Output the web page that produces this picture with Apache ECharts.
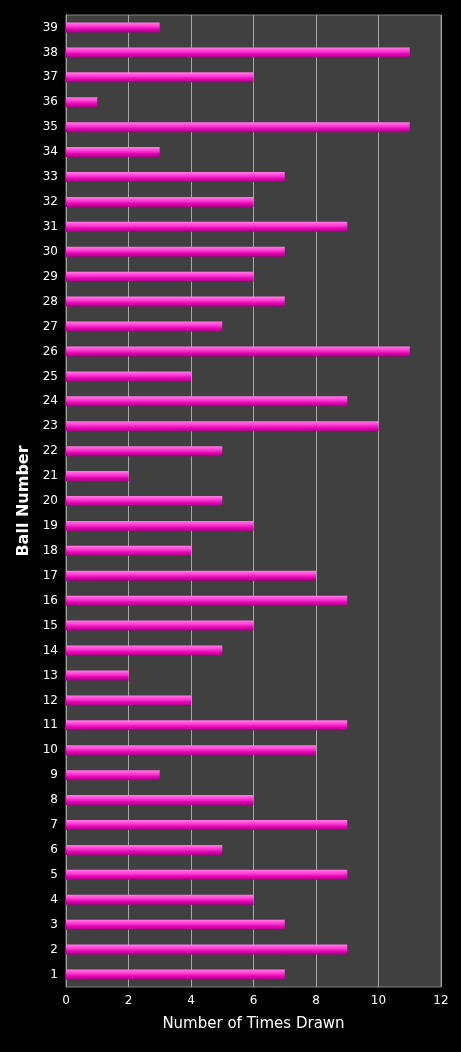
<!DOCTYPE html>
<html style="height: 100%">
<head><meta charset="utf-8"></head>
<body style="height: 100%; margin: 0; background: #000">
<div id="container" style="height: 100%"></div>
<script src="https://cdn.jsdelivr.net/npm/echarts@6/dist/echarts.min.js"></script>
<script>
var balls = [];
for (var i = 1; i <= 39; i++) balls.push(String(i));
var timesDrawn = [7, 9, 7, 6, 9, 5, 9, 6, 3, 8, 9, 4, 2, 5, 6, 9, 8, 4, 6, 5,
                  2, 5, 10, 9, 4, 11, 5, 7, 6, 7, 9, 6, 7, 3, 11, 1, 6, 11, 3];
var xTicks = [0, 2, 4, 6, 8, 10, 12];

var myChart = echarts.init(document.getElementById('container'));
var option = {
    backgroundColor: '#000',
    textStyle: { fontFamily: 'DejaVu Sans' },
    grid: {
        left: 66, right: 20, top: 15, bottom: 65,
        show: true, backgroundColor: '#404040', borderColor: '#808080', borderWidth: 1
    },
    xAxis: {
        type: 'value', min: xTicks[0], max: xTicks[xTicks.length - 1], interval: 2,
        name: 'Number of Times Drawn', nameLocation: 'middle', nameGap: 30,
        nameTextStyle: { color: '#fff', fontSize: 15 },
        axisLabel: { color: '#fff', fontSize: 12 },
        axisLine: { show: false },
        splitLine: { lineStyle: { color: '#a8a8a8', width: 1 } }
    },
    yAxis: {
        type: 'category', data: balls,
        name: 'Ball Number', nameLocation: 'middle', nameGap: 33,
        nameTextStyle: { color: '#fff', fontSize: 16, fontWeight: 'bold' },
        axisLabel: { color: '#fff', fontSize: 12 },
        axisTick: { show: false },
        axisLine: { lineStyle: { color: '#a0a0a0' } }
    },
    series: [{
        type: 'bar',
        data: timesDrawn,
        barWidth: 10,
        itemStyle: {
            color: new echarts.graphic.LinearGradient(0, 0, 0, 1, [
                { offset: 0, color: '#ff7be6' },
                { offset: 0.35, color: '#ff3fd6' },
                { offset: 0.7, color: '#e000b0' },
                { offset: 1, color: '#a00080' }
            ])
        }
    }]
};
myChart.setOption(option);
</script>
</body>
</html>
